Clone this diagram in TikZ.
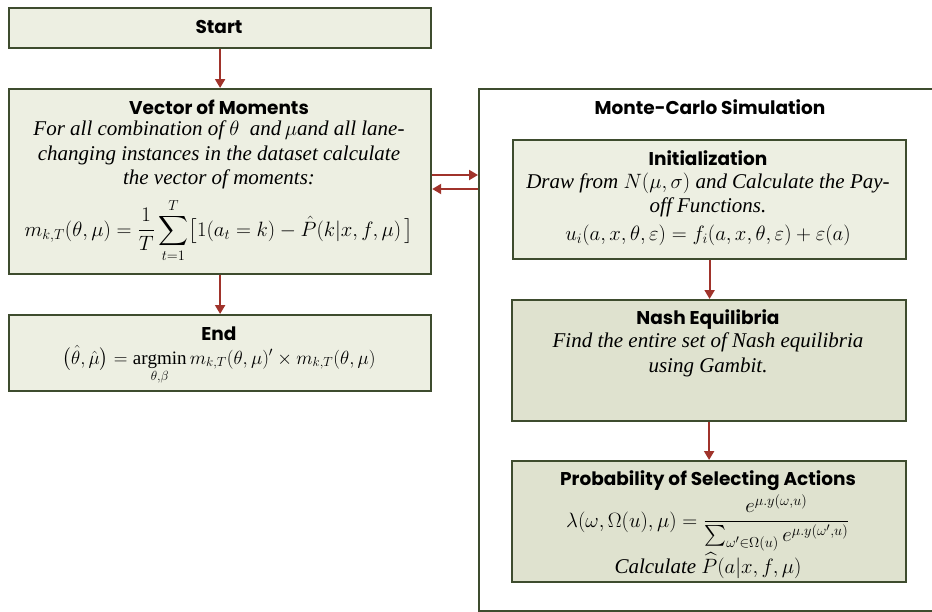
\documentclass[tikz,border=0pt]{standalone}
\usepackage{amsmath}
\usepackage{graphicx}
\usepackage{fontspec}
\setmainfont{Liberation Serif}
\newfontfamily\headfont{Poppins}
\usetikzlibrary{arrows.meta}
\definecolor{boxborder}{HTML}{3E4C2E}
\definecolor{fillA}{HTML}{EDEFE2}
\definecolor{fillB}{HTML}{DFE2CF}
\definecolor{arrowred}{HTML}{A0332B}
\newcommand{\bigmath}[2]{\scalebox{#1}{$\displaystyle #2$}}
\begin{document}
\begin{tikzpicture}[x=1pt,y=-1pt,
  box/.style={draw=boxborder, line width=2.2pt, fill=fillA, anchor=north west, inner sep=0pt},
  darkbox/.style={box, fill=fillB},
  outerbox/.style={draw=boxborder, line width=2pt, fill=white, anchor=north west, inner sep=0pt},
  title/.style={font=\headfont\bfseries\fontsize{18.5}{22}\selectfont, inner sep=0pt},
  body/.style={font=\itshape\fontsize{21}{24.5}\selectfont, align=center, inner sep=0pt},
  mathtxt/.style={font=\fontsize{17.28}{21}\selectfont, align=center, inner sep=0pt, anchor=base},
  arr/.style={-{Triangle[length=9pt,width=10pt]}, draw=arrowred, line width=2pt}]
\useasboundingbox (0,0) rectangle (932,611);
\clip (0,0) rectangle (932,611);
\fill[white] (0,0) rectangle (932,611);

% left column
\node[box, minimum width=422pt, minimum height=40pt] (start) at (8,7) {};
\node[title] (starttxt) at (219,27) {Start};

\node[box, minimum width=422pt, minimum height=185pt] (vec) at (8,88) {};
\node[title] (vectitle) at (219,107) {Vector of Moments};
\node[body] (vecbody) at (219,155) {For all combination of $\theta$\ \ and\,$\mu$and all lane-\\changing instances in the dataset calculate\\the vector of moments:};
\node[mathtxt] (vecform) at (219,236) {\bigmath{1.2}{m_{k,T}(\theta,\mu)=\frac{1}{T}\sum_{t=1}^{T}\bigl[1(a_t=k)-\hat{P}(k|x,f,\mu)\,\bigr]}};

\node[box, minimum width=422pt, minimum height=76pt] (endb) at (8,314) {};
\node[title] (endtitle) at (219,334) {End};
\node[mathtxt] (endform) at (219,364) {\bigmath{1.1}{\bigl(\hat{\theta},\hat{\mu}\bigr)=\operatorname*{argmin}_{\theta,\beta} m_{k,T}(\theta,\mu)'\times m_{k,T}(\theta,\mu)}};

% Monte-Carlo block
\node[outerbox, minimum width=480pt, minimum height=522pt] (mc) at (478,88) {};
\node[title] (mctitle) at (710,107) {Monte-Carlo Simulation};

\node[box, minimum width=393pt, minimum height=119pt] (init) at (512,139) {};
\node[title] (inittitle) at (708,158) {Initialization};
\node[body] (initbody) at (708,195) {Draw from $N(\mu,\sigma)$\ and Calculate the Pay-\\off Functions.};
\node[mathtxt] (initform) at (708,240) {\bigmath{1.2}{u_i(a,x,\theta,\varepsilon)=f_i(a,x,\theta,\varepsilon)+\varepsilon(a)}};

\node[darkbox, minimum width=394pt, minimum height=121pt] (nash) at (511,299) {};
\node[title] (nashtitle) at (708,320) {Nash Equilibria};
\node[body] (nashbody) at (708,355) {Find the entire set of Nash equilibria\\using Gambit.};

\node[darkbox, minimum width=394pt, minimum height=121pt] (prob) at (511,460) {};
\node[title] (probtitle) at (708,481) {Probability of Selecting Actions};
\node[mathtxt] (probform) at (708,527) {\bigmath{1.2}{\lambda(\omega,\Omega(u),\mu)=\frac{e^{\mu.y(\omega,u)}}{\sum_{\omega'\in\Omega(u)}e^{\mu.y(\omega',u)}}}};
\node[body, anchor=base] (probcalc) at (708,573) {Calculate $\widehat{P}(a|x,f,\mu)$};

% connectors
\coordinate (yA) at (0,175);
\coordinate (yB) at (0,189);
\draw[arr] (start.south) -- (vec.north);
\draw[arr] (vec.south) -- (endb.north);
\draw[arr] (init.south) -- (init.south |- nash.north);
\draw[arr] (nash.south) -- (nash.south |- prob.north);
\draw[arr] (vec.east |- yA) -- (mc.west |- yA);
\draw[arr] (mc.west |- yB) -- (vec.east |- yB);
\end{tikzpicture}
\end{document}
